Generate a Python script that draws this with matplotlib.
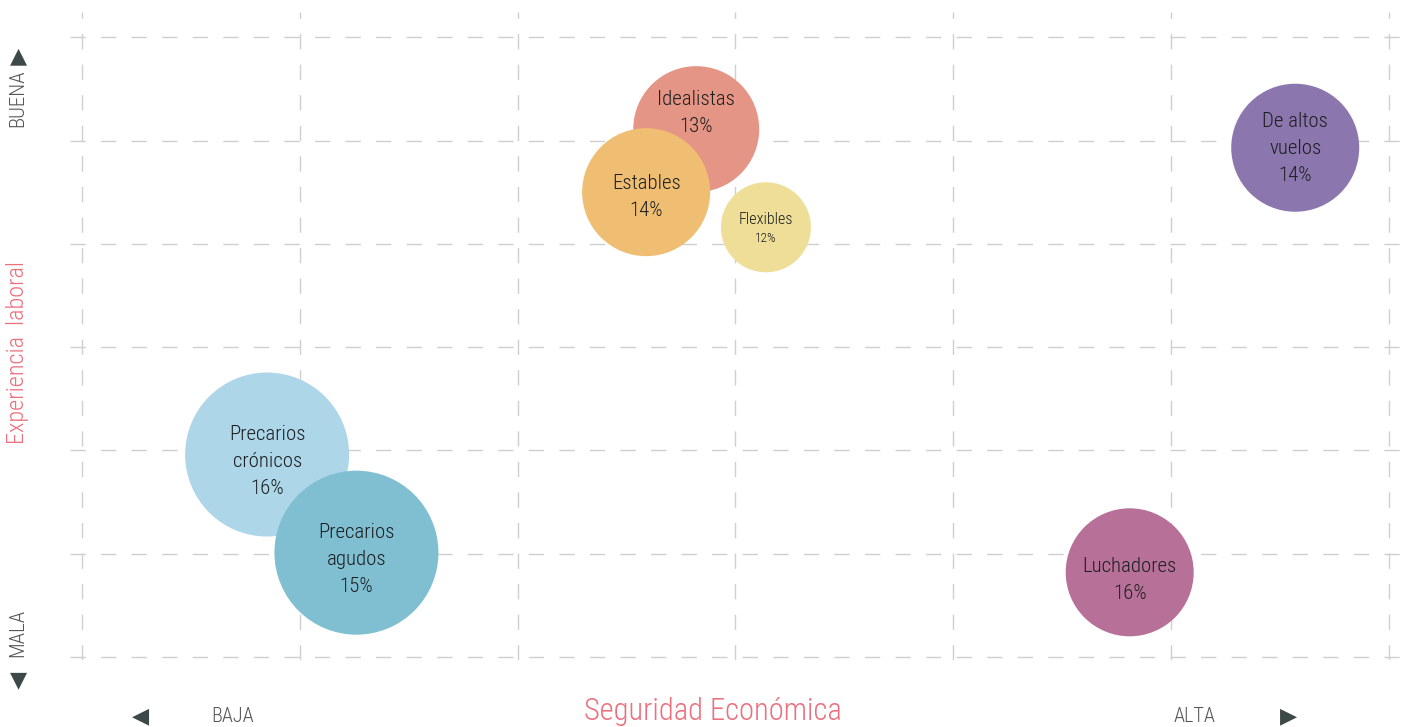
import matplotlib
matplotlib.use("Agg")
import matplotlib.pyplot as plt
from matplotlib import font_manager

# pick a narrow font if there is one
names = set(f.name for f in font_manager.fontManager.ttflist)
fam = "DejaVu Sans"
for cand in ["Roboto Condensed", "Liberation Sans Narrow", "Open Sans Condensed", "Roboto"]:
    if cand in names:
        fam = cand
        break
plt.rcParams['font.family'] = [fam, 'DejaVu Sans']

# data
groups = ["Idealistas", "Estables", "Flexibles", "De altos\nvuelos",
          "Precarios\ncrónicos", "Precarios\nagudos", "Luchadores"]
pct = ["13%", "14%", "12%", "14%", "16%", "15%", "16%"]
seguridad = [2.82, 2.59, 3.14, 5.57, 0.85, 1.26, 4.81]
experiencia = [5.11, 4.50, 4.16, 4.93, 1.96, 1.01, 0.82]
radius_px = [63, 64, 45, 64, 82, 82, 64]
colors = ["#E59585", "#EFBE72", "#EFDE97", "#8C76AE", "#ADD6E8", "#7FBFD1", "#B77098"]
name_size = [15, 15, 11.5, 15, 15, 15, 15]
pct_size = [15, 15, 9.5, 15, 15, 15, 15]
line_px = [27, 27, 19, 27, 27, 27, 27]
shift_px = [-16, 5, 2, 1, 7, 7, 8]
grid_pos = [0, 1, 2, 3, 4, 5, 6]

W, H = 1410, 727
fig = plt.figure(figsize=(W / 100, H / 100), dpi=100)
ax = fig.add_axes([70 / W, 1 - 660 / H, 1330 / W, 648 / H])
ax.set_xlim(-0.055, 6.051)
ax.set_ylim(-0.029, 6.244)

for g in grid_pos:
    ax.axvline(g, color="#cfcfcf", lw=1, ls=(0, (11, 11)), zorder=0)
    ax.axhline(g, color="#cfcfcf", lw=1, ls=(0, (11, 11)), zorder=0)

sizes = [(2 * r * 0.72) ** 2 for r in radius_px]
ax.scatter(seguridad, experiencia, s=sizes, c=colors, linewidths=0, zorder=2)

for i in range(len(groups)):
    lines = groups[i].split("\n") + [pct[i]]
    n = len(lines)
    for k, ln in enumerate(lines):
        off_px = shift_px[i] + (k - (n - 1) / 2) * line_px[i]
        fs = pct_size[i] if k == n - 1 else name_size[i]
        ax.annotate(ln, (seguridad[i], experiencia[i]), xytext=(0, -off_px * 0.72),
                    textcoords="offset points", ha="center", va="center",
                    fontsize=fs, color="#1c1f21", fontweight="light", zorder=3)

for s in ax.spines.values():
    s.set_visible(False)
ax.set_xticks([])
ax.set_yticks([])

# axis titles and ends
pink = "#EC6F7D"
grey = "#555555"
dark = "#3d4848"
fig.text(18 / W, 1 - 352 / H, "Experiencia  laboral", rotation=90, ha="center", va="center",
         fontsize=17.5, color=pink, fontweight="light")
fig.text(713 / W, 1 - 711 / H, "Seguridad Económica", ha="center", va="center",
         fontsize=22, color=pink, fontweight="light")
fig.text(18 / W, 1 - 98 / H, "BUENA", rotation=90, ha="center", va="center", fontsize=15,
         color=grey, fontweight="light")
fig.text(18 / W, 1 - 633 / H, "MALA", rotation=90, ha="center", va="center", fontsize=15,
         color=grey, fontweight="light")
fig.text(233 / W, 1 - 717 / H, "BAJA", ha="center", va="center", fontsize=14.5, color=grey,
         fontweight="light")
fig.text(1195 / W, 1 - 717 / H, "ALTA", ha="center", va="center", fontsize=14.5, color=grey,
         fontweight="light")
fig.text(19 / W, 1 - 57 / H, "▲", ha="center", va="center", fontsize=16, color=dark)
fig.text(19 / W, 1 - 681 / H, "▼", ha="center", va="center", fontsize=16, color=dark)
fig.text(141 / W, 1 - 717 / H, "◀", ha="center", va="center", fontsize=16, color=dark)
fig.text(1288 / W, 1 - 717 / H, "▶", ha="center", va="center", fontsize=16, color=dark)

fig.savefig("out.png", dpi=100)
